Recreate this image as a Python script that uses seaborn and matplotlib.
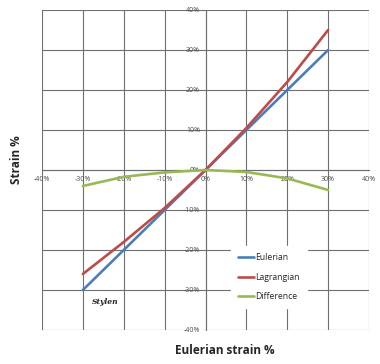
import matplotlib
matplotlib.use("Agg")
import matplotlib.pyplot as plt
import seaborn as sns
import pandas as pd

eulerian_strain = [-30, -20, -10, 0, 10, 20, 30]
eulerian = [-30, -20, -10, 0, 10, 20, 30]
lagrangian = [-26, -18, -9.5, 0, 10.5, 22, 35]
difference = [-4, -1.7, -0.6, 0, -0.5, -2.1, -5]
series_names = ["Eulerian", "Lagrangian", "Difference"]
ticks = [-40, -30, -20, -10, 0, 10, 20, 30, 40]

df = pd.DataFrame({
    "x": eulerian_strain * 3,
    "y": eulerian + lagrangian + difference,
    "series": sum([[n] * len(eulerian_strain) for n in series_names], []),
})

sns.set_style("white")
plt.rcParams["font.family"] = ["Open Sans", "DejaVu Sans"]

fig = plt.figure(figsize=(3.8, 3.64), dpi=100)
ax = fig.add_axes([42 / 380, 1 - 330 / 364, 327 / 380, 320 / 364])

palette = {"Eulerian": "#4a7ebb", "Lagrangian": "#be4b48", "Difference": "#98b954"}
sns.lineplot(data=df, x="x", y="y", hue="series", palette=palette, ax=ax,
             linewidth=1.9, sort=False, zorder=3)

ax.set_xlim(-40, 40)
ax.set_ylim(-40, 40)
ax.set_xticks(ticks)
ax.set_yticks(ticks)
ax.set_xticklabels([f"{t}%" for t in ticks])
ax.set_yticklabels([f"{t}%" for t in ticks])
ax.grid(True, color="#6f6f6f", linewidth=0.8, zorder=0)
ax.set_axisbelow(True)

for s in ["top", "right"]:
    ax.spines[s].set_visible(False)
ax.spines["left"].set_position(("data", 0))
ax.spines["bottom"].set_position(("data", 0))
ax.spines["left"].set_color("#6f6f6f")
ax.spines["bottom"].set_color("#6f6f6f")
ax.tick_params(axis="both", labelsize=5, labelcolor="#4d4d4d", length=3,
               width=0.6, color="#6f6f6f", direction="out", pad=1)

ax.set_xlabel("")
ax.set_ylabel("")

leg = ax.legend(loc="lower left", bbox_to_anchor=(0.565, 0.056), frameon=True,
                fontsize=6.2, handlelength=1.9, handletextpad=0.1,
                labelspacing=1.2, borderpad=0.8, fancybox=False)
leg.get_frame().set_facecolor("white")
leg.get_frame().set_edgecolor("white")
leg.get_frame().set_alpha(1)
leg.set_zorder(5)
for line in leg.get_lines():
    line.set_linewidth(1.9)

ax.text(-24.6, -33, "Stylen", fontsize=5.5, fontstyle="italic", fontweight="bold",
        family="DejaVu Serif", ha="center", va="center", zorder=4)

fig.text(225 / 380, 1 - 350 / 364, "Eulerian strain %", fontsize=8.5,
         fontweight="bold", ha="center", va="center")
fig.text(17 / 380, 1 - 160 / 364, "Strain %", fontsize=8.5, fontweight="bold",
         rotation=90, ha="center", va="center")

fig.savefig("out.png", dpi=100, facecolor="white")
